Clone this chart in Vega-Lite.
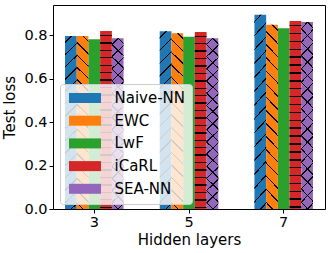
{
  "$schema": "https://vega.github.io/schema/vega-lite/v6.json",
  "width": 272,
  "height": 204,
  "autosize": {"type": "none"},
  "padding": {"left": 53, "top": 5, "right": 7, "bottom": 44},
  "background": "white",
  "config": {
    "font": "DejaVu Sans",
    "view": {"stroke": "black", "strokeWidth": 1},
    "axis": {
      "domain": false,
      "grid": false,
      "tickColor": "black",
      "tickSize": 4,
      "labelColor": "black",
      "labelFont": "DejaVu Sans",
      "labelFontSize": 14.5,
      "titleFont": "DejaVu Sans",
      "titleFontSize": 15,
      "titleFontWeight": "normal",
      "titleColor": "black"
    }
  },
  "data": {
    "values": [
      {"layers": "3", "method": "Naive-NN", "loss": 0.795},
      {"layers": "3", "method": "EWC", "loss": 0.795},
      {"layers": "3", "method": "LwF", "loss": 0.780},
      {"layers": "3", "method": "iCaRL", "loss": 0.818},
      {"layers": "3", "method": "SEA-NN", "loss": 0.785},
      {"layers": "5", "method": "Naive-NN", "loss": 0.817},
      {"layers": "5", "method": "EWC", "loss": 0.808},
      {"layers": "5", "method": "LwF", "loss": 0.792},
      {"layers": "5", "method": "iCaRL", "loss": 0.814},
      {"layers": "5", "method": "SEA-NN", "loss": 0.785},
      {"layers": "7", "method": "Naive-NN", "loss": 0.893},
      {"layers": "7", "method": "EWC", "loss": 0.847},
      {"layers": "7", "method": "LwF", "loss": 0.831},
      {"layers": "7", "method": "iCaRL", "loss": 0.864},
      {"layers": "7", "method": "SEA-NN", "loss": 0.860}
    ]
  },
  "encoding": {
    "x": {
      "field": "layers",
      "type": "nominal",
      "title": "Hidden layers",
      "scale": {"paddingInner": 0.382, "paddingOuter": 0.127},
      "axis": {"labelAngle": 0, "labelPadding": 2, "titlePadding": 4}
    },
    "xOffset": {
      "field": "method",
      "type": "nominal",
      "scale": {"domain": ["Naive-NN", "EWC", "LwF", "iCaRL", "SEA-NN"], "paddingInner": 0, "paddingOuter": 0}
    },
    "y": {
      "field": "loss",
      "type": "quantitative",
      "title": "Test loss",
      "scale": {"domain": [0, 0.938], "nice": false},
      "axis": {"values": [0, 0.2, 0.4, 0.6, 0.8], "format": ".1f", "labelPadding": 2, "titlePadding": 6}
    }
  },
  "layer": [
    {
      "mark": {"type": "bar"},
      "encoding": {
        "color": {
          "field": "method",
          "type": "nominal",
          "scale": {
            "domain": ["Naive-NN", "EWC", "LwF", "iCaRL", "SEA-NN"],
            "range": ["#1f77b4", "#ff7f0e", "#2ca02c", "#d62728", "#9467bd"]
          },
          "legend": {
            "title": null,
            "orient": "none",
            "legendX": 7,
            "legendY": 79,
            "padding": 6.5,
            "fillColor": "rgba(255,255,255,0.8)",
            "strokeColor": "#cccccc",
            "cornerRadius": 3,
            "symbolType": "M-1,-1 L5.4,-1 L5.4,1 L-1,1 Z",
            "symbolSize": 100,
            "symbolStrokeWidth": 0,
            "symbolOpacity": 1,
            "labelOffset": 33,
            "labelFont": "DejaVu Sans",
            "labelFontSize": 15,
            "labelColor": "black",
            "rowPadding": 6.7,
            "encode": {
              "symbols": {
                "update": {
                  "fill": {
                    "signal": "datum.value === 'Naive-NN' ? {gradient: 'linear', x1: 0, y1: 0, x2: 1.196, y2: 0.374, stops: [{offset: 0, color: '#1f77b4'}, {offset: 0.15, color: '#1f77b4'}, {offset: 0.15, color: '#000000'}, {offset: 0.185, color: '#000000'}, {offset: 0.185, color: '#1f77b4'}, {offset: 0.5, color: '#1f77b4'}, {offset: 0.5, color: '#000000'}, {offset: 0.535, color: '#000000'}, {offset: 0.535, color: '#1f77b4'}, {offset: 0.85, color: '#1f77b4'}, {offset: 0.85, color: '#000000'}, {offset: 0.885, color: '#000000'}, {offset: 0.885, color: '#1f77b4'}, {offset: 1, color: '#1f77b4'}]} : datum.value === 'EWC' ? {gradient: 'linear', x1: 0, y1: 1, x2: 1.196, y2: 0.626, stops: [{offset: 0, color: '#ff7f0e'}, {offset: 0.08, color: '#ff7f0e'}, {offset: 0.08, color: '#000000'}, {offset: 0.115, color: '#000000'}, {offset: 0.115, color: '#ff7f0e'}, {offset: 0.75, color: '#ff7f0e'}, {offset: 0.75, color: '#000000'}, {offset: 0.785, color: '#000000'}, {offset: 0.785, color: '#ff7f0e'}, {offset: 1, color: '#ff7f0e'}]} : datum.value === 'iCaRL' ? {gradient: 'linear', x1: 0, y1: 0, x2: 0, y2: 1, stops: [{offset: 0, color: '#000000'}, {offset: 0.11, color: '#000000'}, {offset: 0.11, color: '#d62728'}, {offset: 0.86, color: '#d62728'}, {offset: 0.86, color: '#000000'}, {offset: 1, color: '#000000'}]} : scale('color', datum.value)"
                  }
                }
              }
            }
          }
        }
      }
    },
    {
      "transform": [{"filter": "datum.method === 'Naive-NN' || datum.method === 'SEA-NN'"}],
      "mark": {
        "type": "bar",
        "fill": {
          "gradient": "linear", "x1": 0, "y1": 0, "x2": 0.07, "y2": 1.06,
          "stops": [
            {"offset": 0, "color": "rgba(0,0,0,0)"},
            {"offset": 0.03, "color": "rgba(0,0,0,0)"}, {"offset": 0.03, "color": "#000000"}, {"offset": 0.038, "color": "#000000"}, {"offset": 0.038, "color": "rgba(0,0,0,0)"},
            {"offset": 0.097, "color": "rgba(0,0,0,0)"}, {"offset": 0.097, "color": "#000000"}, {"offset": 0.105, "color": "#000000"}, {"offset": 0.105, "color": "rgba(0,0,0,0)"},
            {"offset": 0.164, "color": "rgba(0,0,0,0)"}, {"offset": 0.164, "color": "#000000"}, {"offset": 0.172, "color": "#000000"}, {"offset": 0.172, "color": "rgba(0,0,0,0)"},
            {"offset": 0.231, "color": "rgba(0,0,0,0)"}, {"offset": 0.231, "color": "#000000"}, {"offset": 0.239, "color": "#000000"}, {"offset": 0.239, "color": "rgba(0,0,0,0)"},
            {"offset": 0.298, "color": "rgba(0,0,0,0)"}, {"offset": 0.298, "color": "#000000"}, {"offset": 0.306, "color": "#000000"}, {"offset": 0.306, "color": "rgba(0,0,0,0)"},
            {"offset": 0.365, "color": "rgba(0,0,0,0)"}, {"offset": 0.365, "color": "#000000"}, {"offset": 0.373, "color": "#000000"}, {"offset": 0.373, "color": "rgba(0,0,0,0)"},
            {"offset": 0.432, "color": "rgba(0,0,0,0)"}, {"offset": 0.432, "color": "#000000"}, {"offset": 0.44, "color": "#000000"}, {"offset": 0.44, "color": "rgba(0,0,0,0)"},
            {"offset": 0.499, "color": "rgba(0,0,0,0)"}, {"offset": 0.499, "color": "#000000"}, {"offset": 0.507, "color": "#000000"}, {"offset": 0.507, "color": "rgba(0,0,0,0)"},
            {"offset": 0.566, "color": "rgba(0,0,0,0)"}, {"offset": 0.566, "color": "#000000"}, {"offset": 0.574, "color": "#000000"}, {"offset": 0.574, "color": "rgba(0,0,0,0)"},
            {"offset": 0.633, "color": "rgba(0,0,0,0)"}, {"offset": 0.633, "color": "#000000"}, {"offset": 0.641, "color": "#000000"}, {"offset": 0.641, "color": "rgba(0,0,0,0)"},
            {"offset": 0.7, "color": "rgba(0,0,0,0)"}, {"offset": 0.7, "color": "#000000"}, {"offset": 0.708, "color": "#000000"}, {"offset": 0.708, "color": "rgba(0,0,0,0)"},
            {"offset": 0.767, "color": "rgba(0,0,0,0)"}, {"offset": 0.767, "color": "#000000"}, {"offset": 0.775, "color": "#000000"}, {"offset": 0.775, "color": "rgba(0,0,0,0)"},
            {"offset": 0.834, "color": "rgba(0,0,0,0)"}, {"offset": 0.834, "color": "#000000"}, {"offset": 0.842, "color": "#000000"}, {"offset": 0.842, "color": "rgba(0,0,0,0)"},
            {"offset": 0.901, "color": "rgba(0,0,0,0)"}, {"offset": 0.901, "color": "#000000"}, {"offset": 0.909, "color": "#000000"}, {"offset": 0.909, "color": "rgba(0,0,0,0)"},
            {"offset": 0.968, "color": "rgba(0,0,0,0)"}, {"offset": 0.968, "color": "#000000"}, {"offset": 0.976, "color": "#000000"}, {"offset": 0.976, "color": "rgba(0,0,0,0)"},
            {"offset": 1, "color": "rgba(0,0,0,0)"}
          ]
        }
      }
    },
    {
      "transform": [{"filter": "datum.method === 'EWC' || datum.method === 'SEA-NN'"}],
      "mark": {
        "type": "bar",
        "fill": {
          "gradient": "linear", "x1": 0, "y1": 1, "x2": 0.07, "y2": -0.06,
          "stops": [
            {"offset": 0, "color": "rgba(0,0,0,0)"},
            {"offset": 0.03, "color": "rgba(0,0,0,0)"}, {"offset": 0.03, "color": "#000000"}, {"offset": 0.038, "color": "#000000"}, {"offset": 0.038, "color": "rgba(0,0,0,0)"},
            {"offset": 0.097, "color": "rgba(0,0,0,0)"}, {"offset": 0.097, "color": "#000000"}, {"offset": 0.105, "color": "#000000"}, {"offset": 0.105, "color": "rgba(0,0,0,0)"},
            {"offset": 0.164, "color": "rgba(0,0,0,0)"}, {"offset": 0.164, "color": "#000000"}, {"offset": 0.172, "color": "#000000"}, {"offset": 0.172, "color": "rgba(0,0,0,0)"},
            {"offset": 0.231, "color": "rgba(0,0,0,0)"}, {"offset": 0.231, "color": "#000000"}, {"offset": 0.239, "color": "#000000"}, {"offset": 0.239, "color": "rgba(0,0,0,0)"},
            {"offset": 0.298, "color": "rgba(0,0,0,0)"}, {"offset": 0.298, "color": "#000000"}, {"offset": 0.306, "color": "#000000"}, {"offset": 0.306, "color": "rgba(0,0,0,0)"},
            {"offset": 0.365, "color": "rgba(0,0,0,0)"}, {"offset": 0.365, "color": "#000000"}, {"offset": 0.373, "color": "#000000"}, {"offset": 0.373, "color": "rgba(0,0,0,0)"},
            {"offset": 0.432, "color": "rgba(0,0,0,0)"}, {"offset": 0.432, "color": "#000000"}, {"offset": 0.44, "color": "#000000"}, {"offset": 0.44, "color": "rgba(0,0,0,0)"},
            {"offset": 0.499, "color": "rgba(0,0,0,0)"}, {"offset": 0.499, "color": "#000000"}, {"offset": 0.507, "color": "#000000"}, {"offset": 0.507, "color": "rgba(0,0,0,0)"},
            {"offset": 0.566, "color": "rgba(0,0,0,0)"}, {"offset": 0.566, "color": "#000000"}, {"offset": 0.574, "color": "#000000"}, {"offset": 0.574, "color": "rgba(0,0,0,0)"},
            {"offset": 0.633, "color": "rgba(0,0,0,0)"}, {"offset": 0.633, "color": "#000000"}, {"offset": 0.641, "color": "#000000"}, {"offset": 0.641, "color": "rgba(0,0,0,0)"},
            {"offset": 0.7, "color": "rgba(0,0,0,0)"}, {"offset": 0.7, "color": "#000000"}, {"offset": 0.708, "color": "#000000"}, {"offset": 0.708, "color": "rgba(0,0,0,0)"},
            {"offset": 0.767, "color": "rgba(0,0,0,0)"}, {"offset": 0.767, "color": "#000000"}, {"offset": 0.775, "color": "#000000"}, {"offset": 0.775, "color": "rgba(0,0,0,0)"},
            {"offset": 0.834, "color": "rgba(0,0,0,0)"}, {"offset": 0.834, "color": "#000000"}, {"offset": 0.842, "color": "#000000"}, {"offset": 0.842, "color": "rgba(0,0,0,0)"},
            {"offset": 0.901, "color": "rgba(0,0,0,0)"}, {"offset": 0.901, "color": "#000000"}, {"offset": 0.909, "color": "#000000"}, {"offset": 0.909, "color": "rgba(0,0,0,0)"},
            {"offset": 0.968, "color": "rgba(0,0,0,0)"}, {"offset": 0.968, "color": "#000000"}, {"offset": 0.976, "color": "#000000"}, {"offset": 0.976, "color": "rgba(0,0,0,0)"},
            {"offset": 1, "color": "rgba(0,0,0,0)"}
          ]
        }
      }
    },
    {
      "transform": [{"filter": "datum.method === 'iCaRL'"}],
      "mark": {
        "type": "bar",
        "fill": {
          "gradient": "linear", "x1": 0, "y1": 0, "x2": 0, "y2": 1,
          "stops": [
            {"offset": 0, "color": "rgba(0,0,0,0)"},
            {"offset": 0.02, "color": "rgba(0,0,0,0)"}, {"offset": 0.02, "color": "#000000"}, {"offset": 0.028, "color": "#000000"}, {"offset": 0.028, "color": "rgba(0,0,0,0)"},
            {"offset": 0.062, "color": "rgba(0,0,0,0)"}, {"offset": 0.062, "color": "#000000"}, {"offset": 0.07, "color": "#000000"}, {"offset": 0.07, "color": "rgba(0,0,0,0)"},
            {"offset": 0.104, "color": "rgba(0,0,0,0)"}, {"offset": 0.104, "color": "#000000"}, {"offset": 0.112, "color": "#000000"}, {"offset": 0.112, "color": "rgba(0,0,0,0)"},
            {"offset": 0.146, "color": "rgba(0,0,0,0)"}, {"offset": 0.146, "color": "#000000"}, {"offset": 0.154, "color": "#000000"}, {"offset": 0.154, "color": "rgba(0,0,0,0)"},
            {"offset": 0.188, "color": "rgba(0,0,0,0)"}, {"offset": 0.188, "color": "#000000"}, {"offset": 0.196, "color": "#000000"}, {"offset": 0.196, "color": "rgba(0,0,0,0)"},
            {"offset": 0.23, "color": "rgba(0,0,0,0)"}, {"offset": 0.23, "color": "#000000"}, {"offset": 0.238, "color": "#000000"}, {"offset": 0.238, "color": "rgba(0,0,0,0)"},
            {"offset": 0.272, "color": "rgba(0,0,0,0)"}, {"offset": 0.272, "color": "#000000"}, {"offset": 0.28, "color": "#000000"}, {"offset": 0.28, "color": "rgba(0,0,0,0)"},
            {"offset": 0.314, "color": "rgba(0,0,0,0)"}, {"offset": 0.314, "color": "#000000"}, {"offset": 0.322, "color": "#000000"}, {"offset": 0.322, "color": "rgba(0,0,0,0)"},
            {"offset": 0.356, "color": "rgba(0,0,0,0)"}, {"offset": 0.356, "color": "#000000"}, {"offset": 0.364, "color": "#000000"}, {"offset": 0.364, "color": "rgba(0,0,0,0)"},
            {"offset": 0.398, "color": "rgba(0,0,0,0)"}, {"offset": 0.398, "color": "#000000"}, {"offset": 0.406, "color": "#000000"}, {"offset": 0.406, "color": "rgba(0,0,0,0)"},
            {"offset": 0.44, "color": "rgba(0,0,0,0)"}, {"offset": 0.44, "color": "#000000"}, {"offset": 0.448, "color": "#000000"}, {"offset": 0.448, "color": "rgba(0,0,0,0)"},
            {"offset": 0.482, "color": "rgba(0,0,0,0)"}, {"offset": 0.482, "color": "#000000"}, {"offset": 0.49, "color": "#000000"}, {"offset": 0.49, "color": "rgba(0,0,0,0)"},
            {"offset": 0.524, "color": "rgba(0,0,0,0)"}, {"offset": 0.524, "color": "#000000"}, {"offset": 0.532, "color": "#000000"}, {"offset": 0.532, "color": "rgba(0,0,0,0)"},
            {"offset": 0.566, "color": "rgba(0,0,0,0)"}, {"offset": 0.566, "color": "#000000"}, {"offset": 0.574, "color": "#000000"}, {"offset": 0.574, "color": "rgba(0,0,0,0)"},
            {"offset": 0.608, "color": "rgba(0,0,0,0)"}, {"offset": 0.608, "color": "#000000"}, {"offset": 0.616, "color": "#000000"}, {"offset": 0.616, "color": "rgba(0,0,0,0)"},
            {"offset": 0.65, "color": "rgba(0,0,0,0)"}, {"offset": 0.65, "color": "#000000"}, {"offset": 0.658, "color": "#000000"}, {"offset": 0.658, "color": "rgba(0,0,0,0)"},
            {"offset": 0.692, "color": "rgba(0,0,0,0)"}, {"offset": 0.692, "color": "#000000"}, {"offset": 0.7, "color": "#000000"}, {"offset": 0.7, "color": "rgba(0,0,0,0)"},
            {"offset": 0.734, "color": "rgba(0,0,0,0)"}, {"offset": 0.734, "color": "#000000"}, {"offset": 0.742, "color": "#000000"}, {"offset": 0.742, "color": "rgba(0,0,0,0)"},
            {"offset": 0.776, "color": "rgba(0,0,0,0)"}, {"offset": 0.776, "color": "#000000"}, {"offset": 0.784, "color": "#000000"}, {"offset": 0.784, "color": "rgba(0,0,0,0)"},
            {"offset": 0.818, "color": "rgba(0,0,0,0)"}, {"offset": 0.818, "color": "#000000"}, {"offset": 0.826, "color": "#000000"}, {"offset": 0.826, "color": "rgba(0,0,0,0)"},
            {"offset": 0.86, "color": "rgba(0,0,0,0)"}, {"offset": 0.86, "color": "#000000"}, {"offset": 0.868, "color": "#000000"}, {"offset": 0.868, "color": "rgba(0,0,0,0)"},
            {"offset": 0.902, "color": "rgba(0,0,0,0)"}, {"offset": 0.902, "color": "#000000"}, {"offset": 0.91, "color": "#000000"}, {"offset": 0.91, "color": "rgba(0,0,0,0)"},
            {"offset": 0.944, "color": "rgba(0,0,0,0)"}, {"offset": 0.944, "color": "#000000"}, {"offset": 0.952, "color": "#000000"}, {"offset": 0.952, "color": "rgba(0,0,0,0)"},
            {"offset": 0.986, "color": "rgba(0,0,0,0)"}, {"offset": 0.986, "color": "#000000"}, {"offset": 0.994, "color": "#000000"}, {"offset": 0.994, "color": "rgba(0,0,0,0)"},
            {"offset": 1, "color": "rgba(0,0,0,0)"}
          ]
        }
      }
    }
  ]
}
